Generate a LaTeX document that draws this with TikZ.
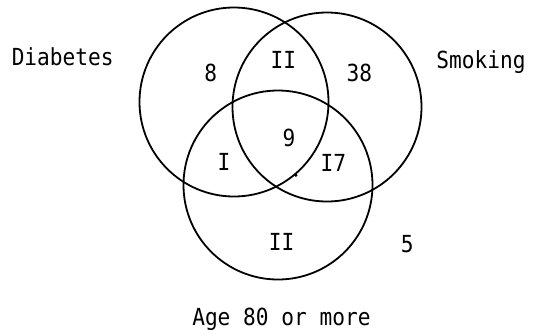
\documentclass[tikz,border=0pt]{standalone}
\usepackage{fontspec}
\newfontfamily\tw[FakeStretch=0.9]{DejaVu Sans Mono}
\begin{document}
\begin{tikzpicture}[x=1pt,y=-1pt,
  vset/.style={circle,draw,line width=1.8pt,minimum size=189pt,inner sep=0pt},
  lbl/.style={anchor=base,inner sep=0pt,font=\tw\fontsize{23.5}{26}\selectfont}]
\useasboundingbox (0,0) rectangle (533,333);
\node[vset] (D) at (234,102) {};
\node[vset] (S) at (327,107) {};
\node[vset] (A) at (278,185) {};
\fill (295.8,175.2) circle (1.8pt);
\node[lbl] (tD) at (62.7,65.7) {Diabetes};
\node[lbl] (tS) at (481,68.3) {Smoking};
\node[lbl] (tA) at (281.4,325.7) {Age 80 or more};
\node[lbl] (n8) at (210.7,81) {8};
\node[lbl] (nDS) at (283.3,68.3) {II};
\node[lbl] (n38) at (359.3,81) {38};
\node[lbl] (n9) at (289,146) {9};
\node[lbl] (nDA) at (224,170.7) {I};
\node[lbl] (nSA) at (333.3,171.7) {I7};
\node[lbl] (nA) at (281.7,250) {II};
\node[lbl] (n5) at (407.3,252.7) {5};
\end{tikzpicture}
\end{document}
